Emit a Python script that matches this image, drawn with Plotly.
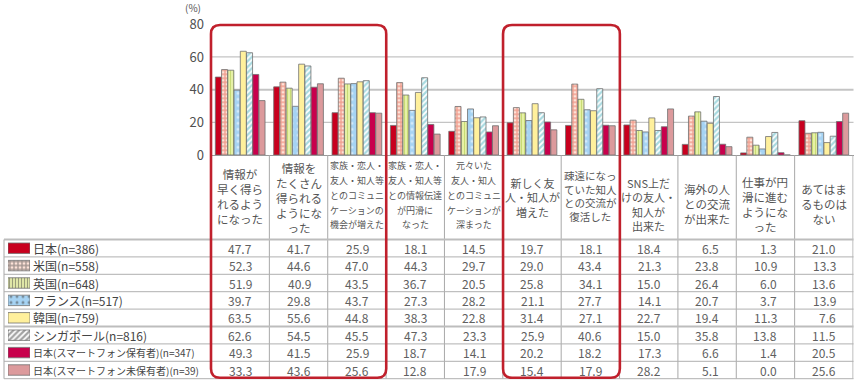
import plotly.graph_objects as go

# ---------------- data ----------------
categories = [
    "情報が<br>早く得ら<br>れるよう<br>になった",
    "情報を<br>たくさん<br>得られる<br>ようにな<br>った",
    "家族・恋人・<br>友人・知人等<br>とのコミュニ<br>ケーションの<br>機会が増えた",
    "家族・恋人・<br>友人・知人等<br>との情報伝達<br>が円滑に<br>なった",
    "元々いた<br>友人・知人<br>とのコミュニ<br>ケーションが<br>深まった",
    "新しく友<br>人・知人が<br>増えた",
    "疎遠になっ<br>ていた知人<br>との交流が<br>復活した",
    "SNS上だ<br>けの友人・<br>知人が<br>出来た",
    "海外の人<br>との交流<br>が出来た",
    "仕事が円<br>滑に進む<br>ようにな<br>った",
    "あてはま<br>るものは<br>ない",
]

series = [
    "日本(n=386)",
    "米国(n=558)",
    "英国(n=648)",
    "フランス(n=517)",
    "韓国(n=759)",
    "シンガポール(n=816)",
    "日本(スマートフォン保有者)(n=347)",
    "日本(スマートフォン未保有者)(n=39)",
]

japan        = [47.7, 41.7, 25.9, 18.1, 14.5, 19.7, 18.1, 18.4, 6.5, 1.3, 21.0]
usa          = [52.3, 44.6, 47.0, 44.3, 29.7, 29.0, 43.4, 21.3, 23.8, 10.9, 13.3]
uk           = [51.9, 40.9, 43.5, 36.7, 20.5, 25.8, 34.1, 15.0, 26.4, 6.0, 13.6]
france       = [39.7, 29.8, 43.7, 27.3, 28.2, 21.1, 27.7, 14.1, 20.7, 3.7, 13.9]
korea        = [63.5, 55.6, 44.8, 38.3, 22.8, 31.4, 27.1, 22.7, 19.4, 11.3, 7.6]
singapore    = [62.6, 54.5, 45.5, 47.3, 23.3, 25.9, 40.6, 15.0, 35.8, 13.8, 11.5]
japan_sp     = [49.3, 41.5, 25.9, 18.7, 14.1, 20.2, 18.2, 17.3, 6.6, 1.4, 20.5]
japan_nosp   = [33.3, 43.6, 25.6, 12.8, 17.9, 15.4, 17.9, 28.2, 5.1, 0.0, 25.6]

data = [japan, usa, uk, france, korea, singapore, japan_sp, japan_nosp]

y_ticks = [0, 20, 40, 60, 80]
highlight_groups = [(0, 2), (5, 6)]  # category index ranges boxed in red

# ---------------- styles ----------------
FONT = "Noto Sans CJK JP"
styles = [
    dict(bg="#c8001e", fg="#c8001e", shape="", size=4, sol=0.3),
    dict(bg="#fde2d8", fg="#e25a44", shape="+", size=4, sol=0.55),
    dict(bg="#eef5b0", fg="#a2c23a", shape="|", size=3, sol=0.45),
    dict(bg="#a6d3f3", fg="#ffffff", shape=".", size=6, sol=0.2),
    dict(bg="#fff09c", fg="#fff09c", shape="", size=4, sol=0.3),
    dict(bg="#ffffff", fg="#4fb3c0", shape="/", size=4, sol=0.55),
    dict(bg="#c8004c", fg="#c8004c", shape="", size=4, sol=0.3),
    dict(bg="#dc9a9c", fg="#dc9a9c", shape="", size=4, sol=0.3),
]

W, H = 858, 383
def px(x): return x / W
def py(y): return (H - y) / H

X0, X1 = 211.0, 853.5          # plot area horizontal extent (px)
Y_ZERO, Y_TOP = 155.0, 24.3    # pixel of y=0 and y=80
n_cat = len(categories)
cw = (X1 - X0) / n_cat

ROW_TOP = 239.5
ROW_H = 17.4
n_rows = len(series)
ROW_BOT = ROW_TOP + ROW_H * n_rows

fig = go.Figure()

for name, vals, st in zip(series, data, styles):
    fig.add_trace(go.Bar(
        x=categories, y=vals, name=name, showlegend=False,
        xaxis="x", yaxis="y",
        marker=dict(
            color=st["bg"],
            line=dict(color="#707070", width=0.8),
            pattern=dict(shape=st["shape"], fgcolor=st["fg"], bgcolor=st["bg"],
                         size=st["size"], solidity=st["sol"]),
        ),
    ))

# legend swatches in table's left column
fig.add_trace(go.Bar(
    x=[1] * n_rows, y=series, orientation="h", width=0.6, showlegend=False,
    xaxis="x2", yaxis="y2", hoverinfo="skip",
    marker=dict(
        color=[s["bg"] for s in styles],
        line=dict(color="#707070", width=0.8),
        pattern=dict(shape=[s["shape"] for s in styles],
                     fgcolor=[s["fg"] for s in styles],
                     bgcolor=[s["bg"] for s in styles],
                     size=[s["size"] for s in styles],
                     solidity=[s["sol"] for s in styles]),
    ),
))

shapes = []
annotations = []

# grid lines
for v in y_ticks[1:-1]:
    shapes.append(dict(type="line", xref="paper", yref="y", x0=px(X0), x1=px(X1),
                       y0=v, y1=v, line=dict(color="#c4c4c4", width=1.2 if v != 40 else 2),
                       layer="below"))

# table vertical lines
for i in range(1, n_cat + 1):
    xv = i - 0.5
    shapes.append(dict(type="line", xref="x", yref="paper", x0=xv, x1=xv,
                       y0=py(Y_ZERO), y1=py(ROW_BOT), line=dict(color="#a8a8a8", width=1)))
shapes.append(dict(type="line", xref="paper", yref="paper", x0=px(4), x1=px(4),
                   y0=py(ROW_TOP), y1=py(ROW_BOT), line=dict(color="#a8a8a8", width=1)))
# table horizontal lines
for r in range(n_rows + 1):
    yy = ROW_TOP + r * ROW_H
    thick = r in (0, 5)
    shapes.append(dict(type="line", xref="paper", yref="paper", x0=px(4), x1=px(X1),
                       y0=py(yy), y1=py(yy),
                       line=dict(color="#bdbdbd" if thick else "#b0b0b0", width=2 if thick else 1)))

# red rounded rectangles
def rounded(xl, xr, yt, yb, r=9):
    rx, ry = r / W, r / H
    L, R, T, B = px(xl), px(xr), py(yt), py(yb)
    return (f"M {L+rx},{T} L {R-rx},{T} Q {R},{T} {R},{T-ry} "
            f"L {R},{B+ry} Q {R},{B} {R-rx},{B} L {L+rx},{B} Q {L},{B} {L},{B+ry} "
            f"L {L},{T-ry} Q {L},{T} {L+rx},{T} Z")

for a, b in highlight_groups:
    xl = X0 + a * cw
    xr = X0 + (b + 1) * cw
    shapes.append(dict(type="path", xref="paper", yref="paper",
                       path=rounded(xl, xr, 25, 377.8),
                       line=dict(color="#c0202c", width=2.6), layer="above"))

# header labels
font_sizes = [11.5, 11.5, 9, 9, 9, 11, 10.5, 11, 11.5, 11.5, 11.5]
y_centers = [196, 198, 195, 195, 195, 198, 196, 204, 204, 204, 204]
PITCH = 15
for cat, fs, yc in zip(categories, font_sizes, y_centers):
    if fs >= 10.5:
        annotations.append(dict(text=cat, x=cat, xref="x", y=py(yc), yref="paper",
                                showarrow=False, xanchor="center", yanchor="middle",
                                align="center", borderpad=0,
                                font=dict(family=FONT, size=fs, color="#555555")))
    else:
        lines = cat.split("<br>")
        n = len(lines)
        for j, ln in enumerate(lines):
            yy = yc - (n - 1) / 2 * PITCH + j * PITCH
            annotations.append(dict(text=ln, x=cat, xref="x", y=py(yy), yref="paper",
                                    showarrow=False, xanchor="center", yanchor="middle",
                                    borderpad=0,
                                    font=dict(family=FONT, size=fs, color="#555555")))

# table values
for r, (name, vals) in enumerate(zip(series, data)):
    yc = ROW_TOP + (r + 0.5) * ROW_H
    for cat, v in zip(categories, vals):
        annotations.append(dict(text=f"{v:.1f}", x=cat, xref="x", y=py(yc), yref="paper",
                                showarrow=False, xanchor="right", yanchor="middle", xshift=13,
                                borderpad=0,
                                font=dict(family=FONT, size=12, color="#606060")))
    annotations.append(dict(text=name, x=px(32), xref="paper", y=py(yc), yref="paper",
                            showarrow=False, xanchor="left", yanchor="middle", borderpad=0,
                            font=dict(family=FONT, size=12 if r < 6 else 10, color="#444444")))

annotations.append(dict(text="(%)", x=px(193), y=py(8), xref="paper", yref="paper",
                        showarrow=False, xanchor="center", yanchor="middle", borderpad=0,
                        font=dict(family=FONT, size=10, color="#555555")))

fig.update_layout(
    width=W, height=H,
    margin=dict(l=0, r=0, t=0, b=0),
    paper_bgcolor="white", plot_bgcolor="rgba(0,0,0,0)",
    barmode="group", bargap=0.144, bargroupgap=0.04,
    font=dict(family=FONT),
    xaxis=dict(domain=[px(X0), px(X1)], showticklabels=False, ticks="",
               showline=True, linecolor="#999999", linewidth=1, showgrid=False,
               anchor="y", automargin=False),
    yaxis=dict(domain=[py(Y_ZERO), py(Y_TOP)], range=[0, 80], tickvals=y_ticks,
               showgrid=False, zeroline=False, showline=False, ticks="",
               ticklabelstandoff=6, automargin=False,
               tickfont=dict(family=FONT, size=13, color="#505050"), anchor="x"),
    xaxis2=dict(domain=[px(8), px(30)], range=[0, 1], visible=False, anchor="y2",
                automargin=False),
    yaxis2=dict(domain=[py(ROW_BOT), py(ROW_TOP)], autorange="reversed",
                visible=False, anchor="x2", type="category", automargin=False),
    shapes=shapes,
    annotations=annotations,
)

fig.write_html("out.html", config={"displayModeBar": False},
               post_script="document.body.style.margin='0';document.body.style.overflow='hidden';")
